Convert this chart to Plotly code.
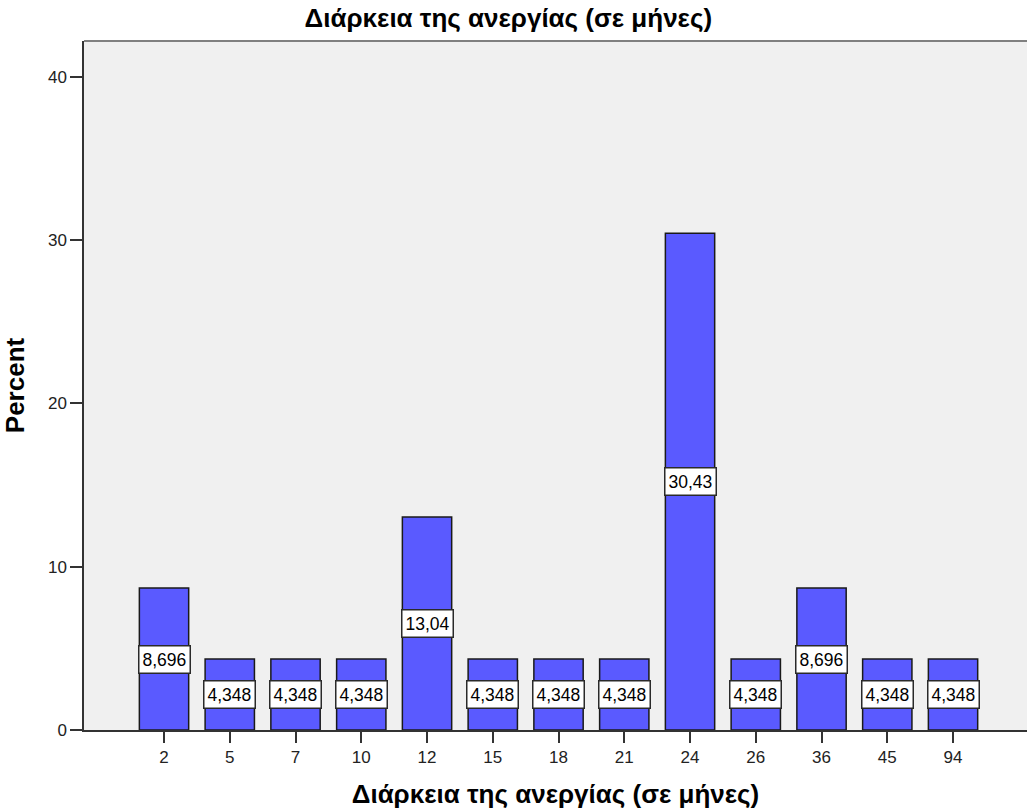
import plotly.graph_objects as go

categories = ["2", "5", "7", "10", "12", "15", "18", "21", "24", "26", "36", "45", "94"]
percents = [8.696, 4.348, 4.348, 4.348, 13.04, 4.348, 4.348, 4.348, 30.43, 4.348, 8.696, 4.348, 4.348]
value_labels = ["8,696", "4,348", "4,348", "4,348", "13,04", "4,348", "4,348", "4,348", "30,43", "4,348", "8,696", "4,348", "4,348"]
y_ticks = [0, 10, 20, 30, 40]

title_text = "Διάρκεια της ανεργίας (σε μήνες)"
font_family = "Liberation Sans, Arial, sans-serif"

fig = go.Figure()
fig.add_trace(go.Bar(
    x=categories,
    y=percents,
    width=0.75,
    marker=dict(color="#5A5AFF", line=dict(color="#1a1a1a", width=1.5)),
    hoverinfo="x+y",
))

for i, (v, lab) in enumerate(zip(percents, value_labels)):
    fig.add_annotation(
        x=i, y=v / 2, text=lab, showarrow=False,
        font=dict(family=font_family, size=17.5, color="black"),
        bgcolor="white", bordercolor="#2a2a2a", borderwidth=1.5, borderpad=3,
    )

fig.update_layout(
    width=1027, height=809,
    margin=dict(l=84, r=0, t=41, b=79),
    paper_bgcolor="white",
    plot_bgcolor="#F0F0F0",
    showlegend=False,
    title=dict(text="<b>" + title_text + "</b>", x=0.495, xanchor="center", y=0.978, yanchor="middle",
               font=dict(family=font_family, size=26, color="black")),
    font=dict(family=font_family, size=17, color="black"),
)

fig.update_xaxes(
    type="category",
    range=[-1.217, 13.125],
    showgrid=False, zeroline=False,
    showline=True, linecolor="#333333", linewidth=1.5,
    ticks="outside", ticklen=11, tickcolor="#333333", tickwidth=1.5,
    tickfont=dict(family=font_family, size=17, color="#222222"),
    title=dict(text="<b>" + title_text + "</b>", standoff=20,
               font=dict(family=font_family, size=26, color="black")),
)
fig.update_yaxes(
    range=[0, 42.2],
    tickvals=y_ticks,
    showgrid=False, zeroline=False,
    showline=True, linecolor="#333333", linewidth=1.5,
    ticks="outside", ticklen=12, tickcolor="#333333", tickwidth=1.5,
    tickfont=dict(family=font_family, size=17, color="#222222"),
    title=dict(text="<b>Percent</b>", standoff=16,
               font=dict(family=font_family, size=26, color="black")),
)

fig.add_shape(type="line", xref="paper", yref="paper", x0=0, x1=1, y0=1, y1=1,
              line=dict(color="#808080", width=2))

fig.write_html("out.html", config={"displayModeBar": False},
               post_script="document.body.style.margin='0';")
